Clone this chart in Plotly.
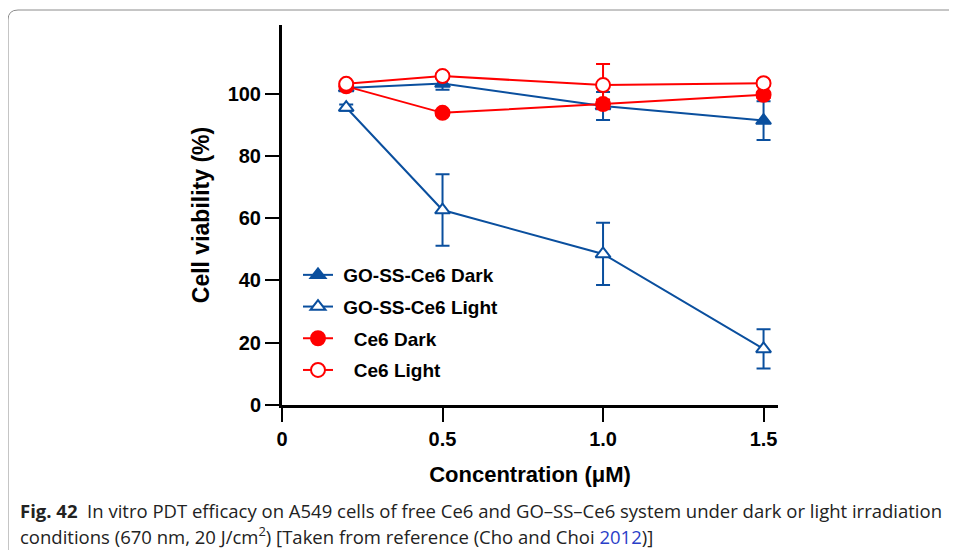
import plotly.graph_objects as go

# concentration (uM)
conc = [0.2, 0.5, 1.0, 1.5]

go_dark = [101.8, 103.2, 96.0, 91.3]
go_dark_err = [1.0, 2.0, 4.5, 6.2]
go_light = [95.5, 62.6, 48.5, 18.0]
go_light_err = [1.0, 11.5, 10.0, 6.3]
ce6_dark = [102.3, 93.8, 96.6, 99.6]
ce6_dark_err = [0.5, 0.8, 1.5, 1.0]
ce6_light = [103.1, 105.6, 102.7, 103.3]
ce6_light_err = [0.5, 0.8, 6.8, 0.8]

x_ticks = [0, 0.5, 1.0, 1.5]
x_ticktext = ["0", "0.5", "1.0", "1.5"]
y_ticks = [0, 20, 40, 60, 80, 100]

blue = "#0a4f9e"
red = "#ff0000"

fig = go.Figure()


def add_series(name, y, err, color, symbol, size, fill):
    fig.add_trace(go.Scatter(
        x=conc, y=y, name=name, mode="lines+markers", legendgroup=name,
        line=dict(color=color, width=2),
        marker=dict(symbol=symbol, size=size, color=fill,
                    line=dict(color=color, width=2)),
        error_y=dict(type="data", array=err, color=color,
                     thickness=2, width=7),
    ))


add_series(" GO-SS-Ce6 Dark", go_dark, go_dark_err, blue, "triangle-up", 13, blue)
add_series(" GO-SS-Ce6 Light", go_light, go_light_err, blue, "triangle-up", 13, "white")
add_series("   Ce6 Dark", ce6_dark, ce6_dark_err, red, "circle", 14, red)
add_series("   Ce6 Light", ce6_light, ce6_light_err, red, "circle", 14, "white")

# page body has an 8px margin, so the figure is drawn 8px smaller/shifted
OFF = 8
FW, FH = 957 - OFF, 550 - OFF
# plot area in page px: x 282..778, y 25..405
L = 282 - OFF
T = 25 - OFF
R = FW - (778 - OFF)
B = FH - (405 - OFF)
W = FW - L - R
H = FH - T - B


def px(x):
    return (x - OFF - L) / W


def py(y):
    return (FH - B - (y - OFF)) / H


fig.update_layout(
    width=FW, height=FH,
    margin=dict(l=L, r=R, t=T, b=B, autoexpand=False),
    plot_bgcolor="white", paper_bgcolor="white",
    font=dict(family="Arial", color="black"),
    showlegend=True,
    legend=dict(x=px(298), y=py(256), xanchor="left", yanchor="top",
                font=dict(size=19, weight="bold"),
                bgcolor="rgba(0,0,0,0)", tracegroupgap=4),
    xaxis=dict(range=[0, 1.545], tickvals=x_ticks, ticktext=x_ticktext,
               showgrid=False, zeroline=False, showline=True,
               linecolor="black", linewidth=3, ticks="outside",
               ticklen=14, tickwidth=1.5, tickcolor="black",
               tickfont=dict(size=20, weight="bold"),
               title=dict(text="Concentration (\u03bcM)",
                          font=dict(size=22, weight="bold"), standoff=18)),
    yaxis=dict(range=[0, 122], tickvals=y_ticks,
               showgrid=False, zeroline=False, showline=True,
               linecolor="black", linewidth=3, ticks="outside",
               ticklen=14, tickwidth=1.5, tickcolor="black",
               tickfont=dict(size=20, weight="bold"),
               title=dict(text="Cell viability (%)",
                          font=dict(size=23, weight="bold"), standoff=12)),
)

# caption panel border with rounded top-left corner
x0, y0 = px(8), py(10)
x1, y1 = px(990), py(600)
rx, ry = 10 / W, 10 / H
fig.add_shape(type="path", xref="paper", yref="paper",
              path=f"M {x0} {y1} L {x0} {y0 - ry} Q {x0} {y0} {x0 + rx} {y0} L {x1} {y0}",
              line=dict(color="#8c8c8c", width=1))

fig.add_annotation(xref="paper", yref="paper", x=px(18), y=py(510),
                   xanchor="left", yanchor="middle", showarrow=False,
                   text="<b>Fig. 42</b>  In vitro PDT efficacy on A549 cells of free Ce6 and GO\u2013SS\u2013Ce6 system under dark or light irradiation",
                   font=dict(family="Open Sans", size=18.5, color="#222222"))
fig.add_annotation(xref="paper", yref="paper", x=px(18), y=py(535),
                   xanchor="left", yanchor="middle", showarrow=False,
                   text="conditions (670 nm, 20 J/cm<sup>2</sup>) [Taken from reference (Cho and Choi <span style='color:#2a3fc8'>2012</span>)]",
                   font=dict(family="Open Sans", size=18.5, color="#222222"))

fig.write_html("out.html")
